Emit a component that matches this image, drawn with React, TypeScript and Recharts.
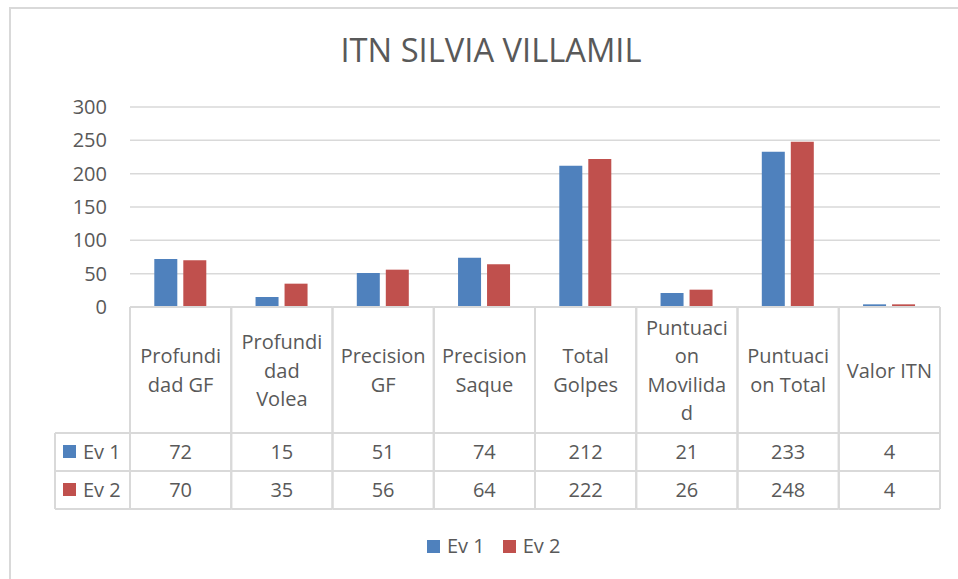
import React from "react";
import {
  BarChart,
  Bar,
  XAxis,
  YAxis,
  CartesianGrid,
  Legend,
} from "recharts";

const categories = [
  "Profundidad GF",
  "Profundidad Volea",
  "Precision GF",
  "Precision Saque",
  "Total Golpes",
  "Puntuacion Movilidad",
  "Puntuacion Total",
  "Valor ITN",
];
// how each category name wraps inside its table cell
const headerLines = [
  ["Profundi", "dad GF"],
  ["Profundi", "dad", "Volea"],
  ["Precision", "GF"],
  ["Precision", "Saque"],
  ["Total", "Golpes"],
  ["Puntuaci", "on", "Movilida", "d"],
  ["Puntuaci", "on Total"],
  ["Valor ITN"],
];
const ev1 = [72, 15, 51, 74, 212, 21, 233, 4];
const ev2 = [70, 35, 56, 64, 222, 26, 248, 4];
const seriesNames = ["Ev 1", "Ev 2"];
const seriesColors = ["#4f81bd", "#c0504d"];
const yTicks = [0, 50, 100, 150, 200, 250, 300];

const data = categories.map((name, i) => ({ name, ev1: ev1[i], ev2: ev2[i] }));

const W = 958;
const H = 579;
const FONT = "'Open Sans', sans-serif";
const TEXT = "#595959";
const LINE = "#d9d9d9";
const PLOT_LEFT = 130;
const PLOT_RIGHT = 940;
const BAND = (PLOT_RIGHT - PLOT_LEFT) / categories.length;
const HEADER_H = 126;
const ROW_H = 38;
const LINE_GAP = 28.5;

function TableTick(props: any) {
  const { x, y, index } = props;
  const top = y;
  const left = x - BAND / 2;
  const right = x + BAND / 2;
  const rowsTop = top + HEADER_H;
  const bottom = rowsTop + ROW_H * 2;
  const lines = headerLines[index] || [];
  const mid = top + HEADER_H / 2;
  const first = mid - ((lines.length - 1) * LINE_GAP) / 2;
  const values = [ev1[index], ev2[index]];
  return (
    <g>
      {lines.map((t, k) => (
        <text
          key={k}
          x={x}
          y={first + k * LINE_GAP + 7.5}
          textAnchor="middle"
          fontFamily={FONT}
          fontSize={20}
          fill={TEXT}
        >
          {t}
        </text>
      ))}
      {values.map((v, r) => (
        <text
          key={"v" + r}
          x={x}
          y={rowsTop + ROW_H * r + ROW_H / 2 + 7}
          textAnchor="middle"
          fontFamily={FONT}
          fontSize={20}
          fill={TEXT}
        >
          {v}
        </text>
      ))}
      <line x1={left} y1={top} x2={left} y2={bottom} stroke={LINE} strokeWidth={2} />
      <line x1={right} y1={top} x2={right} y2={bottom} stroke={LINE} strokeWidth={2} />
      <line x1={left} y1={top} x2={right} y2={top} stroke={LINE} strokeWidth={2} />
      {index === 0 && (
        <g>
          <line x1={55} y1={rowsTop} x2={55} y2={bottom} stroke={LINE} strokeWidth={2} />
          {seriesNames.map((s, r) => (
            <g key={s}>
              <rect x={63} y={rowsTop + ROW_H * r + 12} width={13} height={13} fill={seriesColors[r]} />
              <text
                x={83}
                y={rowsTop + ROW_H * r + ROW_H / 2 + 7}
                fontFamily={FONT}
                fontSize={20}
                fill={TEXT}
              >
                {s}
              </text>
            </g>
          ))}
        </g>
      )}
      {[rowsTop, rowsTop + ROW_H, bottom].map((ly) => (
        <line
          key={ly}
          x1={index === 0 ? 55 : left}
          y1={ly}
          x2={right}
          y2={ly}
          stroke={LINE}
          strokeWidth={2}
        />
      ))}
    </g>
  );
}

function LegendContent() {
  return (
    <div style={{ display: "flex", paddingLeft: 427, height: 20, alignItems: "center", fontFamily: FONT, fontSize: 20, color: TEXT }}>
      {seriesNames.map((s, i) => (
        <div key={s} style={{ display: "flex", alignItems: "center", marginRight: 18 }}>
          <span style={{ width: 13, height: 13, background: seriesColors[i], marginRight: 7, display: "inline-block" }} />
          <span style={{ lineHeight: "20px" }}>{s}</span>
        </div>
      ))}
    </div>
  );
}

export default function App() {
  return (
    <div style={{ position: "relative", width: W, height: H, overflow: "hidden", background: "#fff" }}>
      <style>{"body{margin:0}"}</style>
      <div
        style={{
          position: "absolute",
          left: 9,
          top: 7,
          width: W,
          height: H,
          borderLeft: `2px solid ${LINE}`,
          borderTop: `2px solid ${LINE}`,
        }}
      />
      <div
        style={{
          position: "absolute",
          left: 491,
          top: 34,
          transform: "translateX(-50%)",
          fontFamily: FONT,
          fontSize: 32.7,
          lineHeight: 1,
          color: TEXT,
          whiteSpace: "nowrap",
        }}
      >
        ITN SILVIA VILLAMIL
      </div>
      <BarChart
        width={W}
        height={H}
        data={data}
        margin={{ top: 107, right: W - PLOT_RIGHT, left: 70, bottom: 23 }}
        barCategoryGap="24%"
        barGap={6}
      >
        <CartesianGrid vertical={false} stroke={LINE} strokeWidth={1.5} />
        <XAxis
          dataKey="name"
          interval={0}
          axisLine={false}
          tickLine={false}
          tickSize={0}
          tickMargin={0}
          height={229}
          tick={(p: any) => <TableTick {...p} />}
        />
        <YAxis
          width={60}
          domain={[0, 300]}
          ticks={yTicks}
          axisLine={false}
          tickLine={false}
          tickSize={0}
          tickMargin={23}
          tick={{ fontFamily: FONT, fontSize: 20, fill: TEXT }}
        />
        <Legend
          verticalAlign="bottom"
          height={20}
          content={() => <LegendContent />}
          wrapperStyle={{ left: 0, width: W, bottom: 23 }}
        />
        <Bar dataKey="ev1" name={seriesNames[0]} fill={seriesColors[0]} isAnimationActive={false} />
        <Bar dataKey="ev2" name={seriesNames[1]} fill={seriesColors[1]} isAnimationActive={false} />
      </BarChart>
    </div>
  );
}
